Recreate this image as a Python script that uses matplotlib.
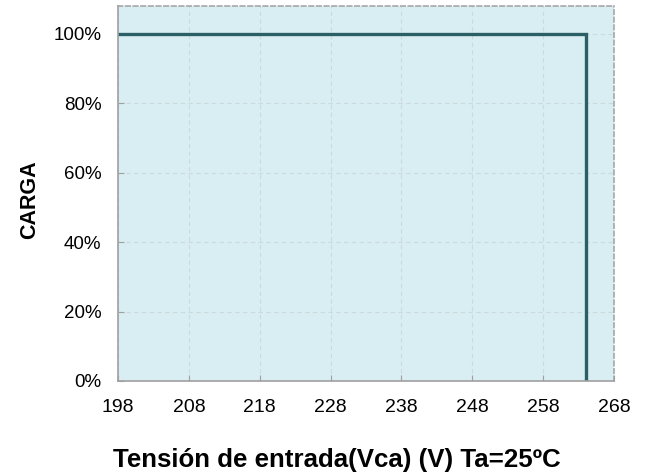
import matplotlib
matplotlib.use("Agg")
import matplotlib.pyplot as plt
from matplotlib.ticker import FuncFormatter

plt.rcParams['font.family'] = ['Liberation Sans', 'DejaVu Sans']

# data
voltaje = [198, 264, 264]
carga = [100, 100, 0]
xticks = [198, 208, 218, 228, 238, 248, 258, 268]
yticks = [0, 20, 40, 60, 80, 100]

fig = plt.figure(figsize=(6.47, 4.76), dpi=100)
ax = fig.add_axes([0.1824, 0.1996, 0.7666, 0.7874])
ax.set_facecolor('#d9eef2')

ax.plot(voltaje, carga, color='#2b5f66', linewidth=2.4, solid_joinstyle='miter')

ax.set_xlim(198, 268)
ax.set_ylim(0, 108)
ax.set_xticks(xticks)
ax.set_yticks(yticks)
ax.yaxis.set_major_formatter(FuncFormatter(lambda v, p: f"{v:.0f}%"))

ax.grid(True, color='#cbdadd', linestyle=(0, (4, 3)), linewidth=0.8)
ax.set_axisbelow(True)

for s in ['left', 'bottom']:
    ax.spines[s].set_color('#a0a0a0')
    ax.spines[s].set_linewidth(1.2)
for s in ['top', 'right']:
    ax.spines[s].set_color('#a0a0a0')
    ax.spines[s].set_linestyle((0, (3, 2)))
    ax.spines[s].set_linewidth(1.1)

ax.tick_params(axis='x', direction='in', length=4, color='#a0a0a0', labelsize=14, pad=13)
ax.tick_params(axis='y', direction='in', length=4, color='#a0a0a0', labelsize=13.5, pad=12)

# axis titles placed in figure coords (the title is off-centre in the reference)
fig.text(30 / 647, 1 - 200 / 476, 'CARGA', rotation=90, fontsize=15.5,
         fontweight='bold', ha='center', va='center')
fig.text(337 / 647, 1 - 460 / 476, 'Tensión de entrada(Vca) (V) Ta=25ºC',
         fontsize=18.6, fontweight='bold', ha='center', va='center')

fig.savefig('out.png', dpi=100)
